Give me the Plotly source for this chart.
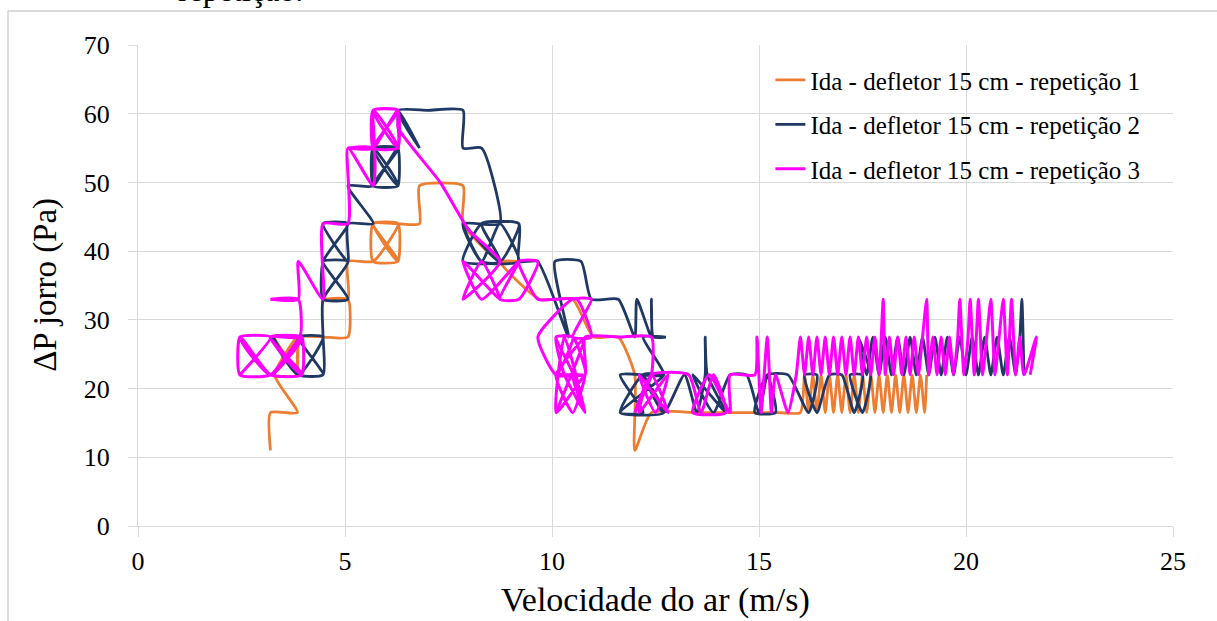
import plotly.graph_objects as go

# Velocidade do ar (m/s) e queda de pressão no jorro (Pa) — ida, defletor 15 cm
rep1_x = [3.20, 3.20, 3.85, 3.30, 3.85, 3.30, 3.85, 3.30, 3.85, 3.85, 3.90, 4.47,
          5.07, 5.07, 4.47, 5.07, 5.07, 5.68, 6.28, 5.68, 6.28, 5.68, 5.68, 6.28,
          6.28, 5.68, 6.28, 6.80, 6.80, 7.85, 7.85, 8.74, 9.20, 8.74, 9.70, 10.50,
          11.00, 11.60, 12.00, 12.00, 12.40, 13.50, 14.50, 15.50,
          16.00, 16.10, 16.20, 16.30, 16.40, 16.50, 16.60, 16.70, 16.80, 16.90, 17.00,
          17.10, 17.20, 17.30, 17.40, 17.50, 17.60, 17.70, 17.80, 17.90, 18.00, 18.10,
          18.20, 18.30, 18.40, 18.50, 18.60, 18.70, 18.80, 18.90, 19.00, 19.05]
rep1_y = [11.0, 16.5, 16.5, 22.0, 27.5, 27.5, 22.0, 22.0, 27.5, 22.0, 27.5, 27.5,
          27.5, 33.0, 33.0, 33.0, 38.5, 38.5, 44.0, 44.0, 38.5, 38.5, 44.0, 44.0,
          38.5, 44.0, 44.0, 44.0, 49.5, 49.5, 44.0, 38.5, 38.5, 38.5, 33.0, 33.0,
          27.5, 27.5, 22.0, 11.0, 16.5, 16.5, 16.5, 16.5,
          16.5, 22.0, 16.5, 22.0, 16.5, 22.0, 16.5, 22.0, 16.5, 22.0, 16.5,
          22.0, 16.5, 22.0, 16.5, 22.0, 16.5, 22.0, 16.5, 22.0, 16.5, 22.0,
          16.5, 22.0, 16.5, 22.0, 16.5, 22.0, 16.5, 22.0, 16.5, 22.0]

rep2_x = [3.26, 3.87, 3.26, 3.87, 4.47, 3.87, 4.47, 3.87, 3.26, 3.87, 4.47, 4.47,
          4.47, 5.07, 4.47, 5.07, 4.47, 4.47, 5.07, 4.47, 5.07, 5.07, 5.68, 5.07,
          5.68, 5.68, 6.28, 5.68, 6.28, 5.68, 6.28, 6.28, 5.68, 5.68, 6.28, 6.28,
          6.80, 6.28, 7.00, 7.85, 7.85, 8.30, 8.74, 7.85, 8.30, 8.74, 9.20, 8.30,
          7.85, 8.74, 9.20, 8.30, 7.85, 8.74, 8.30, 9.20, 9.20, 9.65, 10.40, 10.07,
          10.70, 10.95, 11.60, 12.00, 12.05, 12.40, 12.40, 12.45, 12.75, 12.20, 12.70,
          11.65, 12.20, 11.65, 12.70, 12.20, 11.65, 12.70, 12.20, 12.70, 13.20, 13.50,
          13.70, 13.70, 13.75, 14.20, 13.40, 13.90, 14.30, 14.70, 15.00, 15.20, 15.40,
          14.90, 15.20, 15.70, 16.20, 16.40, 16.10, 16.40, 16.70, 17.00, 17.30, 17.50,
          17.20, 17.50, 17.70,
          17.40, 17.60, 17.75, 17.90, 18.05, 18.20, 18.35, 18.50, 18.65, 18.80, 18.95,
          19.10, 19.25, 19.40, 19.55, 19.70, 19.85, 20.00, 20.15, 20.30, 20.45, 20.60,
          20.75, 20.90, 21.05, 21.20, 21.30, 21.35, 21.40]
rep2_y = [22.0, 27.5, 27.5, 22.0, 27.5, 27.5, 22.0, 22.0, 27.5, 22.0, 22.0, 27.5,
          33.0, 38.5, 38.5, 33.0, 33.0, 38.5, 44.0, 44.0, 38.5, 44.0, 44.0, 49.5,
          49.5, 55.0, 49.5, 49.5, 55.0, 55.0, 49.5, 55.0, 49.5, 55.0, 55.0, 60.5,
          55.0, 60.5, 60.5, 60.5, 55.0, 55.0, 44.0, 44.0, 38.5, 44.0, 38.5, 38.5,
          44.0, 38.5, 44.0, 44.0, 38.5, 38.5, 44.0, 44.0, 38.5, 38.5, 27.5, 38.5,
          38.5, 33.0, 33.0, 27.5, 33.0, 27.5, 33.0, 27.5, 27.5, 27.5, 22.0,
          22.0, 16.5, 16.5, 22.0, 22.0, 16.5, 16.5, 22.0, 16.5, 22.0, 16.5,
          22.0, 27.5, 22.0, 16.5, 22.0, 16.5, 22.0, 22.0, 16.5, 22.0, 16.5,
          16.5, 22.0, 22.0, 16.5, 22.0, 22.0, 16.5, 22.0, 22.0, 16.5, 22.0,
          22.0, 16.5, 22.0,
          27.5, 22.0, 27.5, 22.0, 27.5, 22.0, 27.5, 22.0, 27.5, 22.0, 27.5,
          22.0, 27.5, 22.0, 27.5, 22.0, 27.5, 22.0, 27.5, 22.0, 27.5, 22.0,
          27.5, 22.0, 27.5, 22.0, 27.5, 33.0, 22.0]

rep3_x = [2.46, 3.20, 2.46, 3.20, 3.96, 3.20, 3.96, 3.20, 2.46, 2.46, 3.20, 3.96,
          3.96, 3.20, 3.90, 3.87, 3.20, 3.87, 3.87, 4.47, 4.47, 5.07, 5.07, 5.68,
          5.68, 5.07, 5.68, 5.68, 6.28, 5.68, 6.28, 5.68, 6.28, 6.28, 5.68, 5.68,
          6.28, 6.28, 7.30, 8.00, 8.74, 7.85, 8.30, 8.74, 7.85, 8.30, 9.20, 8.74,
          9.20, 9.66, 9.20, 9.66, 10.10, 10.60, 10.95, 10.50, 10.95, 10.50, 9.66, 10.10,
          10.50, 10.10, 10.50, 10.10, 10.80, 10.10, 10.50, 10.80, 10.30, 10.10, 10.50,
          10.80, 10.10, 10.50, 10.80, 10.10, 10.30, 10.80, 10.50, 10.80,
          10.80, 11.64, 12.40, 12.40, 12.00, 12.40, 12.80,
          12.10, 12.50, 12.80, 12.10, 12.40, 13.30, 13.60, 13.90, 14.20, 13.40, 13.80,
          14.30, 14.30, 14.90, 14.95, 15.05, 15.20, 15.30, 15.40, 15.70, 15.90,
          16.00, 16.10, 16.20, 16.30, 16.40, 16.50, 16.60, 16.70, 16.80, 16.90, 17.00,
          17.10, 17.20, 17.30, 17.40, 17.50, 17.60, 17.70, 17.80, 17.90, 18.00, 18.05,
          18.15, 18.25, 18.35, 18.45, 18.55, 18.65, 18.75, 18.85, 18.95, 19.05, 19.10,
          19.20, 19.30, 19.40, 19.50, 19.60, 19.70, 19.80, 19.85, 19.95, 20.05, 20.10,
          20.20, 20.30, 20.40, 20.50, 20.60, 20.70, 20.80, 20.90, 21.00, 21.10, 21.20,
          21.30, 21.40, 21.70, 21.55]
rep3_y = [22.0, 27.5, 27.5, 22.0, 27.5, 27.5, 22.0, 22.0, 27.5, 22.0, 22.0, 27.5,
          22.0, 27.5, 27.5, 33.0, 33.0, 33.0, 38.5, 33.0, 44.0, 44.0, 55.0, 49.5,
          55.0, 55.0, 55.0, 60.5, 55.0, 55.0, 60.5, 60.5, 55.0, 60.5, 55.0, 60.5,
          60.5, 58.0, 50.0, 43.0, 38.5, 33.0, 38.5, 33.0, 38.5, 33.0, 38.5, 33.0,
          33.0, 38.5, 38.5, 33.0, 33.0, 33.0, 27.5, 27.5, 33.0, 33.0, 27.5, 22.0,
          27.5, 27.5, 22.0, 22.0, 27.5, 16.5, 22.0, 16.5, 22.0, 27.5, 27.5,
          22.0, 22.0, 16.5, 22.0, 16.5, 27.5, 16.5, 22.0, 22.0,
          27.5, 27.5, 27.5, 22.0, 16.5, 22.0, 16.5,
          22.0, 16.5, 22.0, 16.5, 22.0, 22.0, 16.5, 22.0, 16.5, 16.5, 22.0,
          16.5, 22.0, 22.0, 27.5, 16.5, 27.5, 16.5, 22.0, 16.5, 22.0,
          27.5, 22.0, 27.5, 22.0, 27.5, 22.0, 27.5, 22.0, 27.5, 22.0, 27.5,
          22.0, 27.5, 22.0, 27.5, 22.0, 27.5, 22.0, 27.5, 22.0, 33.0, 22.0,
          27.5, 22.0, 27.5, 22.0, 27.5, 22.0, 27.5, 22.0, 27.5, 33.0, 22.0,
          27.5, 22.0, 27.5, 22.0, 27.5, 22.0, 27.5, 33.0, 22.0, 27.5, 33.0,
          22.0, 33.0, 22.0, 27.5, 33.0, 22.0, 27.5, 33.0, 22.0, 33.0, 22.0,
          27.5, 22.0, 27.5, 22.0]

series = [
    ("Ida - defletor 15 cm - repetição 1", rep1_x, rep1_y, "#ED7D31", 2.8),
    ("Ida - defletor 15 cm - repetição 2", rep2_x, rep2_y, "#203864", 2.8),
    ("Ida - defletor 15 cm - repetição 3", rep3_x, rep3_y, "#FF00FF", 3.0),
]

serif = "Liberation Serif"
grid = "#d9d9d9"

fig = go.Figure()
for i, (name, xs, ys, color, width) in enumerate(series):
    fig.add_trace(go.Scatter(
        x=xs, y=ys, name=name, mode="lines",
        line=dict(color=color, width=width, shape="spline", smoothing=0.55),
        legendgroup=f"g{i}",
    ))

fig.update_layout(
    width=1217, height=621,
    margin=dict(l=138, r=44, t=45, b=95),
    paper_bgcolor="white", plot_bgcolor="white",
    font=dict(family=serif, color="black", size=24),
    showlegend=True,
    legend=dict(
        x=0.611, y=0.975, xanchor="left", yanchor="top",
        bgcolor="rgba(0,0,0,0)", font=dict(family=serif, size=25, color="black"),
        tracegroupgap=9, itemwidth=30,
    ),
    xaxis=dict(
        range=[0, 25], dtick=5, tick0=0, showgrid=True, gridcolor=grid, gridwidth=1.3,
        showline=True, linecolor=grid, linewidth=1.3, zeroline=False,
        ticks="outside", ticklen=10, tickcolor=grid, tickwidth=1.3,
        tickfont=dict(family=serif, size=26, color="black"), ticklabelstandoff=2,
    ),
    yaxis=dict(
        range=[0, 70], dtick=10, tick0=0, showgrid=True, gridcolor=grid, gridwidth=1.3,
        showline=True, linecolor=grid, linewidth=1.3, zeroline=False,
        ticks="outside", ticklen=9, tickcolor=grid, tickwidth=1.3,
        tickfont=dict(family=serif, size=26, color="black"), ticklabelstandoff=13,
    ),
    annotations=[
        dict(text="Velocidade do ar (m/s)", xref="paper", yref="paper",
             x=0.5, y=-0.153, xanchor="center", yanchor="middle", showarrow=False,
             font=dict(family=serif, size=34, color="black")),
        dict(text="ΔP jorro (Pa)", xref="paper", yref="paper", textangle=-90,
             x=-0.09, y=0.501, xanchor="center", yanchor="middle", showarrow=False,
             font=dict(family=serif, size=33, color="black")),
        dict(text="repetição.", xref="paper", yref="paper",
             x=0.0986, y=1.0728, xanchor="center", yanchor="bottom", showarrow=False,
             font=dict(family=serif, size=32, color="black")),
    ],
    shapes=[
        dict(type="line", xref="paper", yref="paper", x0=-0.1256, x1=-0.1256,
             y0=1.0707, y1=-0.25, line=dict(color="#d0d0d0", width=1.5)),
        dict(type="line", xref="paper", yref="paper", x0=-0.1256, x1=1.06,
             y0=1.0707, y1=1.0707, line=dict(color="#d0d0d0", width=1.5)),
    ],
)

fig.write_html("out.html")
